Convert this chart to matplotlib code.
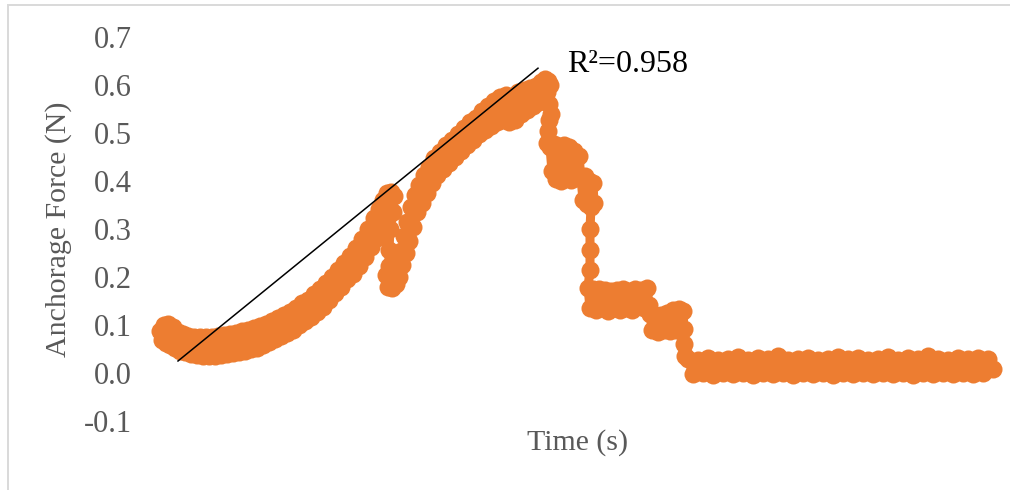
import matplotlib
matplotlib.use("Agg")
import matplotlib.pyplot as plt
from matplotlib.patches import Rectangle

# ---------------- data ----------------
time_s = [
    10, 12, 14, 16, 18, 20, 23, 25, 28, 30, 33, 35, 38, 41, 44, 47, 50, 53, 56, 59,
    62, 65, 68, 71, 74, 77, 80, 83, 86, 89, 92, 95, 98, 101, 104, 107, 110, 113, 116, 119,
    122, 125, 128, 131, 134, 137, 140, 143, 146, 149, 152, 155, 158, 161, 164, 167, 170, 173, 176, 179,
    182, 185, 188, 191, 194, 197, 200, 203, 206, 209, 212, 215, 218, 221, 224, 227, 229, 231, 233, 235,
    237, 239, 241, 243, 244,
    240, 239, 239,
    236, 238, 241, 242, 244, 246, 247, 249,
    251, 252, 254, 256, 257, 259, 261, 263, 265, 267, 269, 272, 274, 277, 279, 282, 284, 287, 290, 293,
    296, 299, 302, 305, 308, 311, 314, 317, 320, 323, 326, 329, 332, 335, 338, 341, 344, 347, 350, 353,
    356, 359, 362, 365, 368, 371, 374, 377, 380, 383, 386, 389, 391, 393, 395, 397, 398, 399, 400, 401,
    399, 398, 397,
    400, 402, 404, 406, 409, 411, 414, 416, 419, 421, 424, 426, 429,
    431, 433, 435, 437, 439, 441, 443, 444, 441,
    440, 440, 440,
    438, 440, 443, 446, 449, 452, 455, 458, 461, 464, 467, 470, 473, 476, 479, 482, 485, 488, 491, 494,
    497, 499,
    500, 502, 505, 508, 511, 514, 517, 520, 523, 526, 529, 531, 533, 534,
    534, 535,
    538, 543, 548, 553, 558, 563, 568, 573, 578, 583, 588, 593, 598, 603, 608, 613, 618, 623, 628, 633,
    638, 643, 648, 653, 658, 663, 668, 673, 678, 683, 688, 693, 698, 703, 708, 713, 718, 723, 728, 733,
    738, 743, 748, 753, 758, 763, 768, 773, 778, 783, 788, 793, 798, 803, 808, 813, 818, 823, 828, 833,
    838, 843,
]

force_n = [
    0.088, 0.068, 0.100, 0.062, 0.103, 0.058, 0.095, 0.052, 0.085, 0.046, 0.081, 0.043, 0.078, 0.040, 0.076, 0.038, 0.075, 0.036, 0.076, 0.035,
    0.076, 0.036, 0.078, 0.038, 0.079, 0.040, 0.081, 0.041, 0.084, 0.043, 0.087, 0.046, 0.090, 0.049, 0.094, 0.053, 0.098, 0.058, 0.103, 0.064,
    0.108, 0.070, 0.114, 0.077, 0.120, 0.083, 0.127, 0.090, 0.136, 0.099, 0.145, 0.108, 0.153, 0.117, 0.164, 0.127, 0.175, 0.138, 0.188, 0.152,
    0.201, 0.166, 0.214, 0.180, 0.229, 0.195, 0.244, 0.207, 0.260, 0.222, 0.280, 0.242, 0.300, 0.262, 0.322, 0.282, 0.342, 0.300, 0.360, 0.318,
    0.375, 0.330, 0.377, 0.335, 0.368,
    0.300, 0.256, 0.222,
    0.205, 0.180, 0.215, 0.178, 0.205, 0.185, 0.225, 0.200,
    0.255, 0.225, 0.285, 0.250, 0.315, 0.275, 0.345, 0.305, 0.370, 0.335, 0.392, 0.355, 0.412, 0.375, 0.430, 0.395, 0.447, 0.412, 0.460, 0.425,
    0.474, 0.438, 0.486, 0.450, 0.497, 0.462, 0.510, 0.474, 0.522, 0.485, 0.532, 0.497, 0.545, 0.507, 0.556, 0.515, 0.566, 0.522, 0.574, 0.528,
    0.580, 0.523, 0.572, 0.528, 0.586, 0.540, 0.590, 0.548, 0.594, 0.556, 0.598, 0.565, 0.606, 0.572, 0.612, 0.585, 0.608, 0.560, 0.600, 0.540,
    0.528, 0.505, 0.480,
    0.470, 0.420, 0.478, 0.405, 0.472, 0.400, 0.476, 0.410, 0.470, 0.402, 0.462, 0.408, 0.452,
    0.405, 0.360, 0.410, 0.352, 0.400, 0.350, 0.395, 0.355, 0.345,
    0.300, 0.256, 0.215,
    0.178, 0.135, 0.175, 0.132, 0.176, 0.138, 0.172, 0.130, 0.170, 0.136, 0.172, 0.132, 0.174, 0.136, 0.170, 0.132, 0.176, 0.140, 0.172, 0.136,
    0.178, 0.142,
    0.122, 0.090, 0.120, 0.086, 0.121, 0.090, 0.124, 0.087, 0.132, 0.090, 0.133, 0.088, 0.130, 0.092,
    0.060, 0.035,
    0.030, -0.002, 0.028, 0.000, 0.032, -0.004, 0.027, 0.001, 0.030, -0.003, 0.034, 0.000, 0.028, -0.004, 0.031, 0.001, 0.029, -0.002, 0.036, 0.000,
    0.027, -0.005, 0.030, 0.001, 0.032, -0.003, 0.028, 0.000, 0.030, -0.004, 0.033, 0.001, 0.029, -0.002, 0.031, 0.000, 0.027, -0.003, 0.030, 0.001,
    0.034, -0.002, 0.028, 0.000, 0.031, -0.004, 0.029, 0.001, 0.035, -0.002, 0.030, 0.000, 0.028, -0.003, 0.032, 0.001, 0.029, -0.002, 0.031, 0.000,
    0.030, 0.008,
]

trend_time = [28, 388]
trend_force = [0.025, 0.635]
r2_text = "R\u00b2=0.958"

ytick_values = [-0.1, 0.0, 0.1, 0.2, 0.3, 0.4, 0.5, 0.6, 0.7]
ytick_labels = ["-0.1", "0.0", "0.1", "0.2", "0.3", "0.4", "0.5", "0.6", "0.7"]

# ---------------- figure ----------------
plt.rcParams["font.family"] = ["Liberation Serif", "DejaVu Serif"]
plt.rcParams["axes.unicode_minus"] = False

W, H = 1010, 490
fig = plt.figure(figsize=(W / 100, H / 100), dpi=100)
fig.patch.set_facecolor("white")

# light grey chart-area border (right/bottom run off the image)
fig.patches.append(Rectangle((8 / W, -0.2), 1.3, (H - 5) / H + 0.2,
                             transform=fig.transFigure, fill=False,
                             edgecolor="#d9d9d9", linewidth=1.4))

ax = fig.add_axes([140 / W, 69 / H, 865 / W, 384 / H])
ax.set_facecolor("none")

orange = "#ED7D31"
ax.plot(time_s, force_n, color=orange, linewidth=6.5, marker="o",
        markersize=13, markeredgewidth=0, solid_joinstyle="round",
        solid_capstyle="round", clip_on=False, zorder=2)
ax.plot(trend_time, trend_force, color="black", linewidth=1.1,
        clip_on=False, zorder=3)

ax.text(417, 0.627, r2_text, fontsize=23, color="black",
        ha="left", va="baseline")

ax.set_xlim(-10, 855)
ax.set_ylim(-0.1, 0.7)
ax.set_yticks(ytick_values)
ax.set_yticklabels(ytick_labels)
ax.set_xticks([])
ax.tick_params(axis="y", length=0, pad=5.8, labelsize=22, labelcolor="#595959")
for s in ax.spines.values():
    s.set_visible(False)

ax.set_xlabel("Time (s)", fontsize=21.5, color="#595959", va="center")
ax.xaxis.set_label_coords((578 - 140) / 865, -(443 - 421) / 384)
ax.set_ylabel("Anchorage Force (N)", fontsize=21.5, color="#595959", va="center")
ax.yaxis.set_label_coords((59 - 140) / 865, (421 - 229) / 384)

fig.savefig("out.png", dpi=100, facecolor="white")
